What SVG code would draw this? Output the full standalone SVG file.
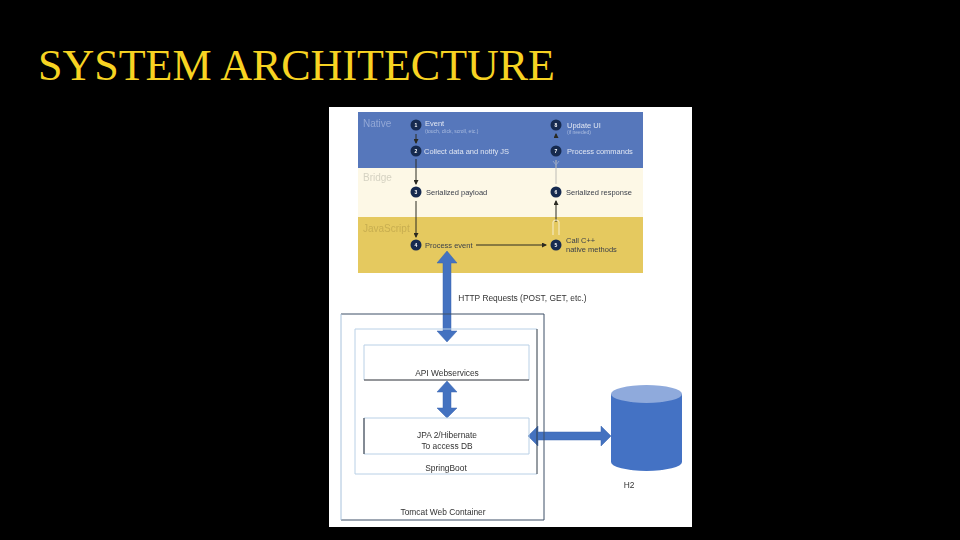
<svg xmlns="http://www.w3.org/2000/svg" width="960" height="540" viewBox="0 0 960 540">
<style>
.t{font-family:"Liberation Sans",Arial,sans-serif;font-size:7.500px;fill:#3a3f4a}
.w{fill:#dfe5f2}
.b{font-family:"Liberation Sans",Arial,sans-serif;font-size:8.400px;fill:#333;text-anchor:middle}
.band{font-family:"Liberation Sans",Arial,sans-serif;font-size:10px}
.n{font-family:"Liberation Sans",Arial,sans-serif;font-size:5px;fill:#fff;text-anchor:middle;font-weight:bold}
.c{fill:#15294f}
.l{stroke:#2b2a20;stroke-width:1;fill:none}
.blue{fill:#4472c0;stroke:#3a66b0;stroke-width:.5}
</style>
<defs>
<marker id="a" markerWidth="5" markerHeight="5" refX="4" refY="2.500" orient="auto"><path d="M0 0L5 2.500L0 5Z" fill="#2b2a20"/></marker>
<filter id="s"><feGaussianBlur stdDeviation=".5"/></filter>
</defs>
<rect width="960" height="540" fill="#000"/>
<text x="38" y="80" font-family="'Liberation Serif','Times New Roman',serif" font-size="44" fill="#f7d322" textLength="517" lengthAdjust="spacingAndGlyphs">SYSTEM ARCHITECTURE</text>
<rect x="329" y="107" width="363" height="420" fill="#fff"/>
<g id="bands" filter="url(#s)">
<rect x="358" y="112" width="285" height="56" fill="#5677bb"/>
<rect x="358" y="168" width="285" height="49" fill="#fdf8e6"/>
<rect x="358" y="217" width="285" height="56" fill="#e5c95f"/>
<text class="band" x="363" y="127" fill="#93a8d6">Native</text>
<text class="band" x="363" y="181" fill="#d5d2c2">Bridge</text>
<text class="band" x="363" y="232" fill="#c8ae50">JavaScript</text>
</g>
<g id="connectors">
<g filter="url(#s)">
<path class="l" d="M416 134V143" marker-end="url(#a)"/>
<path class="l" d="M416 159V184" marker-end="url(#a)"/>
<path class="l" d="M416 201V237" marker-end="url(#a)"/>
<path class="l" d="M476 245H546" marker-end="url(#a)"/>
<path class="l" d="M556 222V201" marker-end="url(#a)"/>
<path d="M553 235V222Q553 220 556 220Q559 220 559 222V235" fill="none" stroke="#f7efd0" stroke-width="1"/>
<path d="M556 184V160" stroke="#bdbdb6" stroke-width="1" fill="none"/>
<path d="M553 161L556 165L559 161" stroke="#8fa3cc" stroke-width="1" fill="none"/>
<path d="M556 138V134" stroke="#1d2f55" stroke-width="1" fill="none" marker-end="url(#a)"/>
</g>
<path class="blue" d="M447 251L457 263H451V331H457L447 342L437 331H443V263H437Z"/>
<path class="blue" d="M447 381L457 392H451V408H457L447 418L437 408H443V392H437Z"/>
<path class="blue" d="M528 436L538 426V432H601V426L611 436L601 446V440H538V446Z"/>
</g>
<g id="n1" filter="url(#s)"><circle class="c" cx="416" cy="125" r="5.500"/><text class="n" x="416" y="127">1</text><text class="t w" x="425" y="126">Event</text><text class="t" x="425" y="133" style="font-size:5px;fill:#a9bbdf">(touch, click, scroll, etc.)</text></g>
<g id="n2" filter="url(#s)"><circle class="c" cx="416" cy="151" r="5.500"/><text class="n" x="416" y="153">2</text><text class="t w" x="424" y="154">Collect data and notify JS</text></g>
<g id="n3" filter="url(#s)"><circle class="c" cx="416" cy="192" r="5.500"/><text class="n" x="416" y="194">3</text><text class="t" x="426" y="195">Serialized payload</text></g>
<g id="n4" filter="url(#s)"><circle class="c" cx="416" cy="245" r="5.500"/><text class="n" x="416" y="247">4</text><text class="t" x="425" y="248">Process event</text></g>
<g id="n5" filter="url(#s)"><circle class="c" cx="556" cy="245" r="5.500"/><text class="n" x="556" y="247">5</text><text class="t" x="566" y="243">Call C++</text><text class="t" x="566" y="252">native methods</text></g>
<g id="n6" filter="url(#s)"><circle class="c" cx="556" cy="192" r="5.500"/><text class="n" x="556" y="194">6</text><text class="t" x="566" y="195">Serialized response</text></g>
<g id="n7" filter="url(#s)"><circle class="c" cx="556" cy="151" r="5.500"/><text class="n" x="556" y="153">7</text><text class="t w" x="567" y="154">Process commands</text></g>
<g id="n8" filter="url(#s)"><circle class="c" cx="556" cy="125" r="5.500"/><text class="n" x="556" y="127">8</text><text class="t w" x="567" y="128">Update UI</text><text class="t" x="567" y="134" style="font-size:5px;fill:#a9bbdf">(if needed)</text></g>
<text class="b" x="522.500" y="301" filter="url(#s)">HTTP Requests (POST, GET, etc.)</text>
<g id="tomcat">
<path d="M341 314H544V520H341" fill="none" stroke="#3c4f66" stroke-width="1"/><path d="M341 314V520" stroke="#a8c2dc" fill="none"/>
<text class="b" x="443" y="515" filter="url(#s)">Tomcat Web Container</text>
</g>
<g id="springboot">
<path d="M537 329H355V474H537" fill="none" stroke="#b9d0e6"/><path d="M537 329V474" stroke="#2f3a46" fill="none"/>
<text class="b" x="446" y="471" filter="url(#s)">SpringBoot</text>
</g>
<g id="api">
<path d="M364 380V345H529V380" fill="none" stroke="#b9d0e6"/><path d="M364 380H529" stroke="#2a2f36" fill="none"/>
<text class="b" x="447" y="376" filter="url(#s)">API Webservices</text>
</g>
<g id="jpa">
<path d="M364 454V418H529V454" fill="none" stroke="#b9d0e6"/><path d="M364 454H529" stroke="#b9d0e6" fill="none"/><path d="M364 418V454" stroke="#2a2f36" fill="none"/>
<text class="b" x="447" y="438" filter="url(#s)">JPA 2/Hibernate</text>
<text class="b" x="447" y="449" filter="url(#s)">To access DB</text>
</g>
<g id="h2">
<path d="M611 394V462A35.500 9 0 0 0 682 462V394Z" fill="#4472c4"/>
<ellipse cx="646.500" cy="394" rx="35.500" ry="9" fill="#8faadc"/>
<text class="b" x="629" y="488" filter="url(#s)">H2</text>
</g>
</svg>
